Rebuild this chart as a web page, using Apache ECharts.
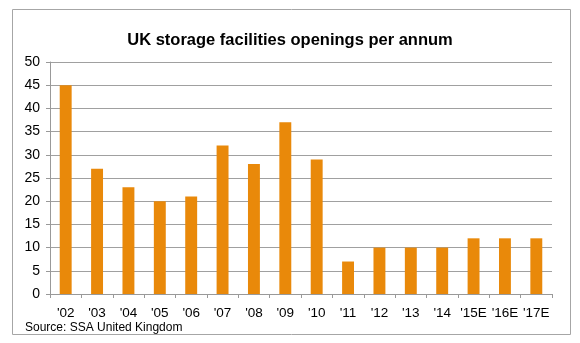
<!DOCTYPE html>
<html><head><meta charset="utf-8">
<script src="https://cdn.jsdelivr.net/npm/echarts@6/dist/echarts.min.js"></script>
<style>html,body{margin:0;padding:0;background:#fff}#c{width:580px;height:343px}</style>
</head><body><div id="c"></div>
<script>
const categories = ["'02","'03","'04","'05","'06","'07","'08","'09","'10","'11","'12","'13","'14","'15E","'16E","'17E"];
const openings = [45,27,23,20,21,32,28,37,29,7,10,10,10,12,12,12];
const yTicks = [0,5,10,15,20,25,30,35,40,45,50];

const chart = echarts.init(document.getElementById('c'), null, {renderer:'canvas'});
chart.setOption({
  animation:false,
  graphic:[
    {type:'rect', shape:{x:12.5,y:9.5,width:558,height:325}, style:{fill:'none', stroke:'#a6a6a6', lineWidth:1}, z:-1},
    {type:'text', left:25, top:322, style:{text:'Source: SSA United Kingdom', font:'12px "Liberation Sans", Arial', fill:'#000'}}
  ],
  title:{text:'UK storage facilities openings per annum', left:'center', top:27,
    textStyle:{fontFamily:'"Liberation Sans", Arial', fontSize:16.5, fontWeight:'bold', color:'#000'}},
  grid:{left:50, right:28, top:62, bottom:49, containLabel:false},
  xAxis:{type:'category', data:categories,
    axisLine:{lineStyle:{color:'#999'}},
    axisTick:{show:true, length:4, lineStyle:{color:'#999'}},
    axisLabel:{interval:0, fontFamily:'"Liberation Sans", Arial', fontSize:13.5, color:'#000', margin:12}},
  yAxis:{type:'value', min:0, max:50, interval:5,
    axisLine:{show:true, lineStyle:{color:'#999'}},
    axisTick:{show:true, length:4, lineStyle:{color:'#999'}},
    splitLine:{lineStyle:{color:'#a0a0a0'}},
    axisLabel:{fontFamily:'"Liberation Sans", Arial', fontSize:14, color:'#000', margin:10,
      formatter:v=>yTicks.includes(v)?String(v):''}},
  series:[{type:'bar', data:openings, barWidth:'38%', itemStyle:{color:'#E9890A'}}]
});
</script></body></html>
